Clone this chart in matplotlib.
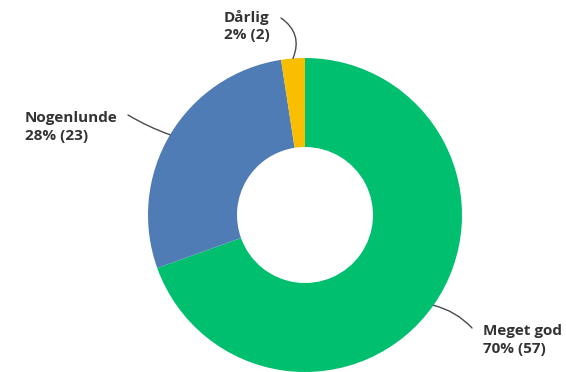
import numpy as np
import matplotlib.pyplot as plt

labels = ['Meget god', 'Nogenlunde', 'Dårlig']
counts = [57, 23, 2]
percents = [70, 28, 2]
colors = ['#00bf6f', '#507cb6', '#f9be00']

W, H = 566, 372
cx, cy = 305, H - 215
r_out, r_in = 157, 68

fig = plt.figure(figsize=(W / 100, H / 100), dpi=100)
ax = fig.add_axes([0, 0, 1, 1])

wedges, _ = ax.pie(counts, colors=colors, startangle=90, counterclock=False,
                   center=(cx, cy), radius=r_out, frame=True,
                   wedgeprops=dict(width=r_out - r_in, linewidth=0))
ax.set_xlim(0, W)
ax.set_ylim(0, H)
ax.set_aspect('equal')
ax.axis('off')

# text position (left, vertical middle) and start of leader line, in pixels from top
text_pos = [(483, 340), (25, 127), (224, 26)]
line_start = [(472, 328), (128, 115), (281, 18)]
rads = [0.15, 0.05, -0.4]

for w, lab, c, p, tp, ls, rad in zip(wedges, labels, counts, percents, text_pos, line_start, rads):
    ang = np.deg2rad((w.theta1 + w.theta2) / 2)
    px = cx + r_out * np.cos(ang)
    py = cy + r_out * np.sin(ang)
    ax.text(tp[0], H - tp[1], f'{lab}\n{p}% ({c})', ha='left', va='center',
            fontsize=11, fontweight='bold', color='#333333', family='Open Sans',
            linespacing=1.3)
    ax.annotate('', xy=(px, py), xytext=(ls[0], H - ls[1]),
                arrowprops=dict(arrowstyle='-', color='#4a4a4a', lw=1,
                                connectionstyle=f'arc3,rad={rad}',
                                shrinkA=0, shrinkB=0))

fig.savefig('out.png', dpi=100)
